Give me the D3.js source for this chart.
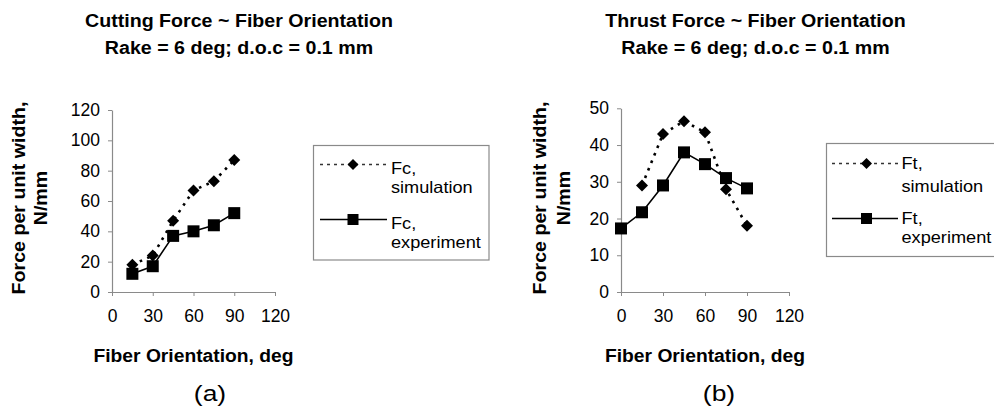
<!DOCTYPE html>
<html>
<head>
<meta charset="utf-8">
<script src="https://cdn.jsdelivr.net/npm/d3@7"></script>
<style>
  html, body { margin: 0; padding: 0; background: #fff; }
  svg { display: block; }
  text { font-family: "Liberation Sans", Arial, sans-serif; fill: #000; }
</style>
</head>
<body>
<svg id="chart" width="994" height="406"></svg>
<script>
// Cutting force vs fiber orientation (panel a)
const fcAngles = [15, 30, 45, 60, 75, 90];
const fcSimulation = [18, 24, 47, 67, 73, 87];
const fcExperiment = [12, 17, 37, 40, 44, 52];

// Thrust force vs fiber orientation (panel b)
const ftSimAngles = [15, 30, 45, 60, 75, 90];
const ftSimulation = [29, 43, 46.5, 43.5, 28, 18];
const ftExpAngles = [0, 15, 30, 45, 60, 75, 90];
const ftExperiment = [17.3, 21.7, 29, 38, 34.8, 31, 28.2];

const xTicks = [0, 30, 60, 90, 120];
const fcTicks = [0, 20, 40, 60, 80, 100, 120];
const ftTicks = [0, 10, 20, 30, 40, 50];

const panels = [
  {
    title: ["Cutting Force ~ Fiber Orientation", "Rake = 6 deg; d.o.c = 0.1 mm"],
    titleX: 239,
    x0: 112, x1: 275, yTop: 110, yBot: 292,
    yMax: 120, yTicks: fcTicks,
    ylab1X: 24.5, ylab2X: 46.5,
    sim: { xs: fcAngles, ys: fcSimulation, name: ["Fc,", "simulation"] },
    exp: { xs: fcAngles, ys: fcExperiment, name: ["Fc,", "experiment"] },
    legend: { x: 313.5, y: 145.5, w: 175.5, h: 114.5, lx0: 320, lx1: 387, mx: 353, tx: 391,
              simY: 164.5, expY: 219.5, b: [173.5, 192.5, 228.5, 247.5] },
    caption: "(a)", capX: 210
  },
  {
    title: ["Thrust Force ~ Fiber Orientation", "Rake = 6 deg; d.o.c = 0.1 mm"],
    titleX: 755.5,
    x0: 621, x1: 789, yTop: 108.3, yBot: 292,
    yMax: 50, yTicks: ftTicks,
    ylab1X: 546, ylab2X: 570,
    sim: { xs: ftSimAngles, ys: ftSimulation, name: ["Ft,", "simulation"] },
    exp: { xs: ftExpAngles, ys: ftExperiment, name: ["Ft,", "experiment"] },
    legend: { x: 826.5, y: 143.5, w: 180, h: 113, lx0: 832, lx1: 898, mx: 866.5, tx: 901.5,
              simY: 163.5, expY: 218.5, b: [169, 191.5, 224, 243] },
    caption: "(b)", capX: 719
  }
];

const svg = d3.select("#chart");

// stretch a text element horizontally along its own direction
function widen(sel, k) {
  sel.each(function () {
    const len = this.getComputedTextLength();
    d3.select(this).attr("textLength", len * k).attr("lengthAdjust", "spacingAndGlyphs");
  });
}

function diamondPath(r) {
  return `M0,${-r}L${r},0L0,${r}L${-r},0Z`;
}

panels.forEach(p => {
  const g = svg.append("g");
  const x = d3.scaleLinear().domain([0, 120]).range([p.x0, p.x1]);
  const y = d3.scaleLinear().domain([0, p.yMax]).range([p.yBot, p.yTop]);

  // titles
  g.append("text").attr("x", p.titleX).attr("y", 27).attr("text-anchor", "middle")
    .attr("font-size", 18).attr("font-weight", "bold").text(p.title[0]).call(widen, 1.09);
  g.append("text").attr("x", p.titleX).attr("y", 53.5).attr("text-anchor", "middle")
    .attr("font-size", 18).attr("font-weight", "bold").text(p.title[1]).call(widen, 1.09);

  // axes
  const xAxis = g.append("g").attr("transform", `translate(0,${p.yBot})`)
    .call(d3.axisBottom(x).tickValues(xTicks).tickSize(4).tickPadding(14).tickSizeOuter(0));
  const yAxis = g.append("g").attr("transform", `translate(${p.x0},0)`)
    .call(d3.axisLeft(y).tickValues(p.yTicks).tickSize(4).tickPadding(8).tickSizeOuter(0));
  [xAxis, yAxis].forEach(a => {
    a.select(".domain").attr("stroke", "#8a8a8a").attr("stroke-width", 1.2);
    a.selectAll(".tick line").attr("stroke", "#8a8a8a");
    a.selectAll(".tick text").attr("font-size", 17.5).attr("fill", "#000")
      .attr("font-family", "Liberation Sans, Arial, sans-serif");
  });

  // axis titles
  g.append("text").attr("x", (p.x0 + p.x1) / 2).attr("y", 362).attr("text-anchor", "middle")
    .attr("font-size", 18).attr("font-weight", "bold").text("Fiber Orientation, deg").call(widen, 1.07);
  const yMid = 198;
  g.append("text").attr("transform", `translate(${p.ylab1X},${yMid}) rotate(-90)`)
    .attr("text-anchor", "middle").attr("font-size", 18).attr("font-weight", "bold")
    .text("Force per unit width,").call(widen, 1.09);
  g.append("text").attr("transform", `translate(${p.ylab2X},${yMid}) rotate(-90)`)
    .attr("text-anchor", "middle").attr("font-size", 18).attr("font-weight", "bold")
    .text("N/mm").call(widen, 1.09);

  // series lines
  const line = d3.line().x(d => x(d[0])).y(d => y(d[1]));
  const simPts = p.sim.xs.map((v, i) => [v, p.sim.ys[i]]);
  const expPts = p.exp.xs.map((v, i) => [v, p.exp.ys[i]]);

  g.append("path").datum(simPts).attr("d", line).attr("fill", "none")
    .attr("stroke", "#000").attr("stroke-width", 2.6).attr("stroke-dasharray", "2.6,5.5");
  g.append("path").datum(expPts).attr("d", line).attr("fill", "none")
    .attr("stroke", "#000").attr("stroke-width", 1.6);

  // markers
  g.selectAll(".sim").data(simPts).join("path").attr("class", "sim")
    .attr("transform", d => `translate(${x(d[0])},${y(d[1])})`)
    .attr("d", diamondPath(6)).attr("fill", "#000");
  g.selectAll(".exp").data(expPts).join("rect").attr("class", "exp")
    .attr("x", d => x(d[0]) - 6).attr("y", d => y(d[1]) - 6)
    .attr("width", 12).attr("height", 12).attr("fill", "#000");

  // legend
  const L = p.legend;
  g.append("rect").attr("x", L.x).attr("y", L.y).attr("width", L.w).attr("height", L.h)
    .attr("fill", "#fff").attr("stroke", "#8a8a8a").attr("stroke-width", 1.2);
  g.append("line").attr("x1", L.lx0).attr("x2", L.lx1).attr("y1", L.simY).attr("y2", L.simY)
    .attr("stroke", "#333").attr("stroke-width", 1.5).attr("stroke-dasharray", "3,4");
  g.append("path").attr("transform", `translate(${L.mx},${L.simY})`).attr("d", diamondPath(5.5)).attr("fill", "#000");
  g.append("line").attr("x1", L.lx0).attr("x2", L.lx1).attr("y1", L.expY).attr("y2", L.expY)
    .attr("stroke", "#000").attr("stroke-width", 1.6);
  g.append("rect").attr("x", L.mx - 5.5).attr("y", L.expY - 5.5).attr("width", 11).attr("height", 11).attr("fill", "#000");
  const legTexts = [p.sim.name[0], p.sim.name[1], p.exp.name[0], p.exp.name[1]];
  legTexts.forEach((t, i) => {
    g.append("text").attr("x", L.tx).attr("y", L.b[i]).attr("font-size", 16.5).text(t).call(widen, 1.1);
  });

  // panel caption
  g.append("text").attr("x", p.capX).attr("y", 401).attr("text-anchor", "middle")
    .attr("font-family", "Liberation Serif, 'Times New Roman', serif")
    .attr("font-size", 22).text(p.caption).call(widen, 1.2);
});
</script>
</body>
</html>
